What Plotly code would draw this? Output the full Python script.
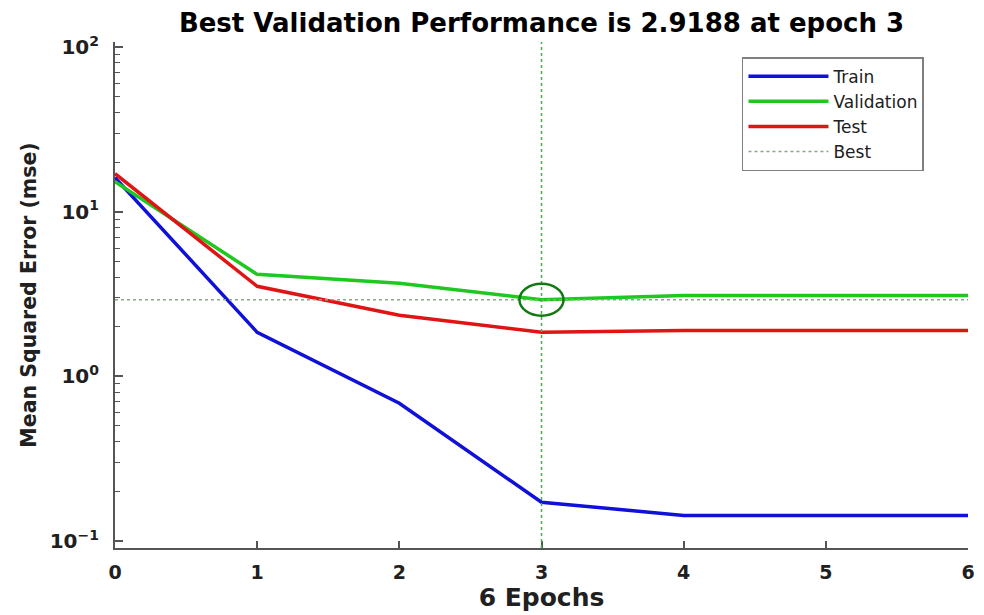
import plotly.graph_objects as go

epochs = [0, 1, 2, 3, 4, 5, 6]
train = [16.1, 1.85, 0.686, 0.172, 0.143, 0.143, 0.143]
validation = [15.2, 4.16, 3.67, 2.9188, 3.10, 3.10, 3.10]
test = [17.0, 3.52, 2.35, 1.85, 1.90, 1.90, 1.90]
best_epoch = 3
best_value = 2.9188
x_ticks = [0, 1, 2, 3, 4, 5, 6]
y_ticks = [0.1, 1, 10, 100]
y_tick_labels = ["10<sup>−1</sup>", "10<sup>0</sup>", "10<sup>1</sup>", "10<sup>2</sup>"]

FONT = "DejaVu Sans"
LEG_FONT = "DejaVu Sans"

# page body has an 8px default margin, so the figure is drawn 8px smaller
W, H = 976, 607

minor_vals = [k * 10.0 ** e for e in range(-1, 2) for k in range(2, 10)]

fig = go.Figure()
fig.add_trace(go.Scatter(x=epochs, y=train, mode="lines", name="Train",
                         line=dict(color="#1010d8", width=3.5)))
fig.add_trace(go.Scatter(x=epochs, y=validation, mode="lines", name="Validation",
                         line=dict(color="#1ec81e", width=3.5)))
fig.add_trace(go.Scatter(x=epochs, y=test, mode="lines", name="Test",
                         line=dict(color="#e01414", width=3.5)))
fig.add_trace(go.Scatter(x=[epochs[0], epochs[-1]], y=[best_value, best_value], mode="lines",
                         name="Best", line=dict(color="#8aa88a", width=1.5, dash="dot")))

# vertical best line
fig.add_shape(type="line", xref="x", yref="paper", x0=best_epoch, x1=best_epoch, y0=0, y1=1,
              line=dict(color="#4aae4a", width=1.5, dash="dot"))
# best point ellipse (size in axis units around the best point)
fig.add_shape(type="circle", xref="x", yref="y",
              x0=best_epoch - 0.155, x1=best_epoch + 0.155,
              y0=best_value / 1.25, y1=best_value * 1.25,
              line=dict(color="#107a10", width=2.5))

fig.update_layout(
    width=W, height=H,
    margin=dict(l=107, r=16, t=34, b=67),
    paper_bgcolor="white", plot_bgcolor="white",
    title=dict(text="Best Validation Performance is 2.9188 at epoch 3",
               x=0.5, xref="paper", y=1 - 15 / H, yanchor="middle",
               font=dict(family=FONT, size=26, color="black", weight="bold")),
    legend=dict(x=0.735, y=0.97, xanchor="left", yanchor="top",
                bgcolor="white", bordercolor="#808080", borderwidth=1.5,
                font=dict(family=LEG_FONT, size=17, color="#202020"),
                itemwidth=80, tracegroupgap=0),
    showlegend=True,
)

fig.update_xaxes(
    range=[0, 6], tickvals=x_ticks, ticktext=[str(v) for v in x_ticks],
    automargin=False,
    showgrid=False, zeroline=False, showline=True, linecolor="#555555", linewidth=2,
    ticks="inside", ticklen=7, tickwidth=1.5, tickcolor="#555555",
    ticklabelstandoff=6,
    tickfont=dict(family=FONT, size=19, color="#202020", weight="bold"),
    title=dict(text="6 Epochs", standoff=6,
               font=dict(family=FONT, size=25, color="#202020", weight="bold")),
)
fig.update_yaxes(
    type="log", range=[-1.0425, 2.03], tickvals=y_ticks, ticktext=y_tick_labels,
    automargin=False,
    showgrid=False, zeroline=False, showline=True, linecolor="#555555", linewidth=2,
    ticks="inside", ticklen=8, tickwidth=1.5, tickcolor="#555555",
    minor=dict(tickvals=minor_vals, ticks="inside", ticklen=5, tickwidth=1.2,
               tickcolor="#555555", showgrid=False),
    ticklabelstandoff=10,
    tickfont=dict(family=FONT, size=20, color="#202020", weight="bold"),
    title=dict(text="Mean Squared Error (mse)", standoff=7,
               font=dict(family=FONT, size=20.5, color="#202020", weight="bold")),
)

fig.write_html("out.html")
